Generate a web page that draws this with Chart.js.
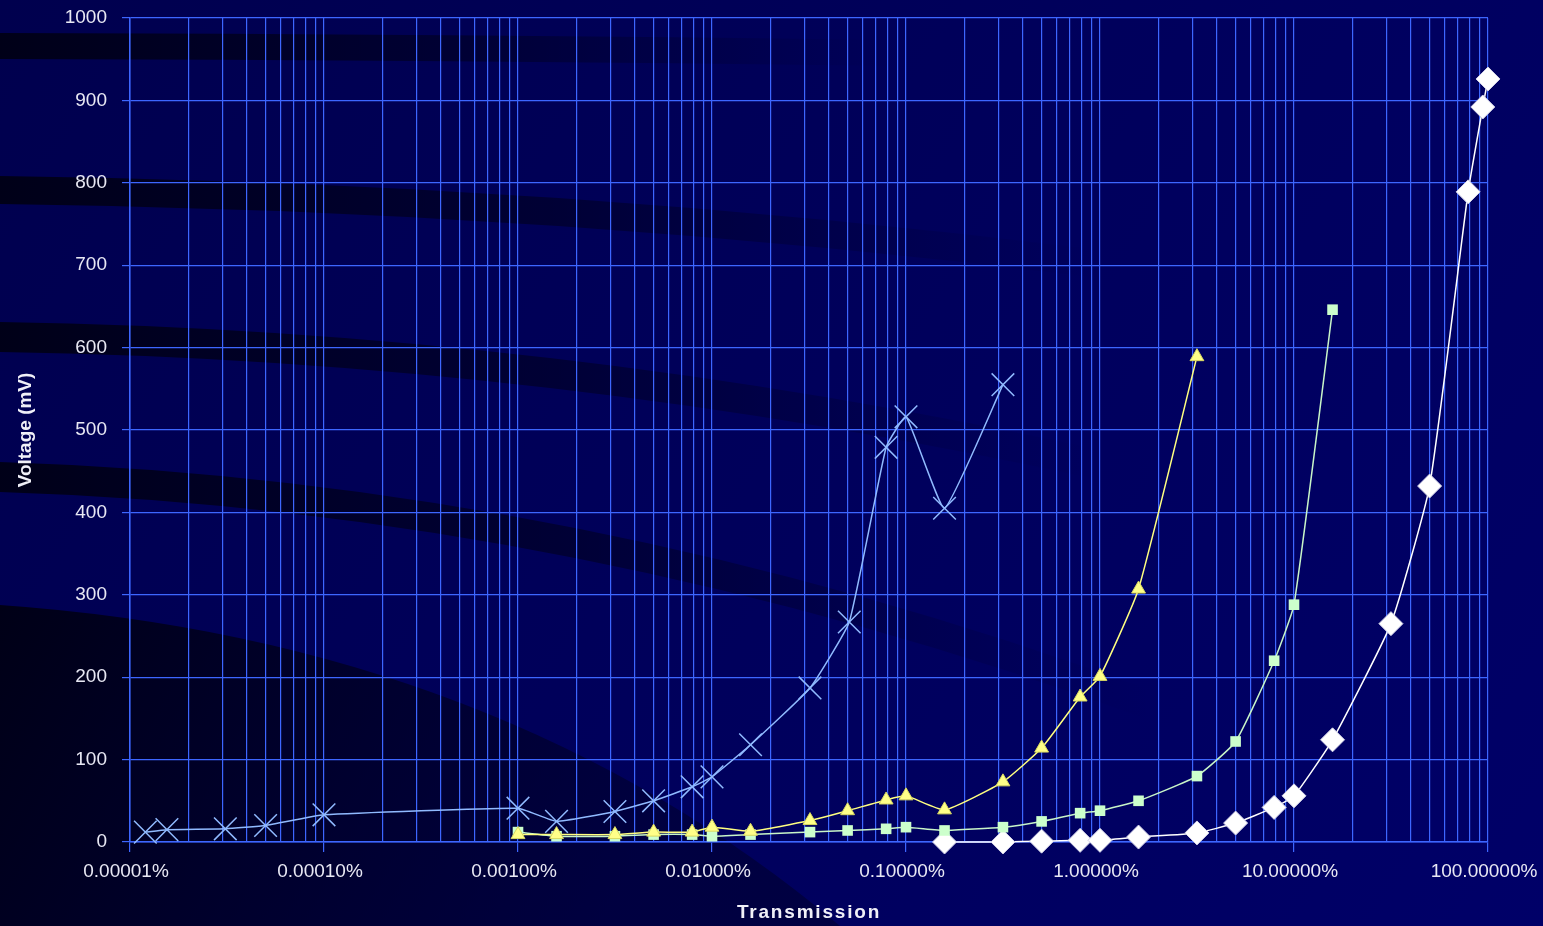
<!DOCTYPE html>
<html>
<head>
<meta charset="utf-8">
<script src="https://cdn.jsdelivr.net/npm/chart.js@4"></script>
<style>
  html, body { margin: 0; padding: 0; background: #00005e; }
  #wrap { width: 1543px; height: 926px; }
</style>
</head>
<body>
<div id="wrap"><canvas id="myChart" width="1543" height="926"></canvas></div>
<script>
// transmission values are fractions (1 = 100%), voltages in mV
var cross_x = [1.2e-7, 1.55e-7, 3.1e-7, 5e-7, 1e-6, 1e-5, 1.58e-5, 3.16e-5, 5e-5, 7.9e-5, 1e-4, 1.58e-4, 3.2e-4, 5.1e-4, 7.9e-4, 1e-3, 1.58e-3, 3.16e-3];
var cross_y = [12, 15, 16, 20, 33, 41, 25, 37, 50, 67, 79, 118, 187, 267, 479, 516, 405, 555];

var tri_x = [1e-5, 1.58e-5, 3.16e-5, 5e-5, 7.9e-5, 1e-4, 1.58e-4, 3.2e-4, 5e-4, 7.9e-4, 1e-3, 1.58e-3, 3.16e-3, 5e-3, 7.9e-3, 1e-2, 1.58e-2, 3.16e-2];
var tri_y = [9, 9, 9, 12, 12, 18, 13, 26, 38, 51, 56, 39, 73, 114, 176, 201, 307, 589];

var sq_x = [1e-5, 1.58e-5, 3.16e-5, 5e-5, 7.9e-5, 1e-4, 1.58e-4, 3.2e-4, 5e-4, 7.9e-4, 1e-3, 1.58e-3, 3.16e-3, 5e-3, 7.9e-3, 1e-2, 1.58e-2, 3.16e-2, 5e-2, 7.9e-2, 1e-1, 1.58e-1];
var sq_y = [12, 7, 7, 9, 9, 7, 9, 12, 14, 16, 18, 14, 18, 25, 35, 38, 50, 80, 122, 220, 288, 646];

var dia_x = [1.58e-3, 3.16e-3, 5e-3, 7.9e-3, 1e-2, 1.58e-2, 3.16e-2, 5e-2, 7.9e-2, 1e-1, 1.58e-1, 3.16e-1, 5e-1, 7.9e-1, 0.94, 1];
var dia_y = [0, 0, 1, 2, 2, 6, 11, 23, 42, 56, 124, 265, 432, 789, 892, 926];

var y_ticks = [0, 100, 200, 300, 400, 500, 600, 700, 800, 900, 1000];
var x_decades = [1e-7, 1e-6, 1e-5, 1e-4, 1e-3, 1e-2, 1e-1, 1];
var x_minor = [1, 2, 3, 4, 5, 6, 7, 8, 9];
var x_title = 'Transmission';

function pts(xs, ys) {
    let out = [];
    for (let i = 0; i < xs.length; i++) {
        out.push({ x: xs[i], y: ys[i] });
    }
    return out;
}

function is_decade(v) {
    let l = Math.log10(v);
    return Math.abs(l - Math.round(l)) < 1e-6;
}

// dark swooshes of the slide background
var backdrop = {
    id: 'backdrop',
    beforeDraw(chart) {
        let c = chart.ctx;
        let w = chart.width, h = chart.height;
        c.save();
        let bg = c.createLinearGradient(0, 0, w, h);
        bg.addColorStop(0, '#00004e');
        bg.addColorStop(1, '#000068');
        c.fillStyle = bg;
        c.fillRect(0, 0, w, h);

        function band(y0, y1, x2, y2, thick, reach) {
            let g = c.createLinearGradient(0, 0, reach, 0);
            g.addColorStop(0, 'rgba(0,0,18,0.9)');
            g.addColorStop(0.5, 'rgba(0,0,25,0.55)');
            g.addColorStop(1, 'rgba(0,0,40,0)');
            c.fillStyle = g;
            c.beginPath();
            c.moveTo(0, y0);
            c.quadraticCurveTo(x2 * 0.5, y1, x2, y2);
            c.lineTo(x2, y2 + thick);
            c.quadraticCurveTo(x2 * 0.5, y1 + thick, 0, y0 + thick);
            c.closePath();
            c.fill();
        }
        band(33, 34, 900, 40, 26, 900);
        band(176, 182, 1100, 250, 28, 1100);
        band(322, 330, 1100, 450, 30, 1100);
        band(462, 480, 1150, 690, 30, 1150);

        let g2 = c.createLinearGradient(0, 600, 600, 926);
        g2.addColorStop(0, 'rgba(0,0,12,0.85)');
        g2.addColorStop(1, 'rgba(0,0,30,0.45)');
        c.fillStyle = g2;
        c.beginPath();
        c.moveTo(0, 605);
        c.quadraticCurveTo(500, 640, 840, 926);
        c.lineTo(0, 926);
        c.closePath();
        c.fill();
        c.restore();
    }
};

// spaced-out bold x axis title, like the original slide
var xTitle = {
    id: 'xTitle',
    afterDraw(chart) {
        let c = chart.ctx;
        let a = chart.chartArea;
        c.save();
        c.font = 'bold 19px "Liberation Sans", Arial, sans-serif';
        c.fillStyle = '#f0f0f8';
        c.letterSpacing = '1.8px';
        c.textAlign = 'center';
        c.textBaseline = 'middle';
        c.fillText(x_title, (a.left + a.right) / 2, 913);
        c.restore();
    }
};

var ctx = document.getElementById('myChart');
var gridBlue = '#3d66ff';
var tickFont = { family: 'Liberation Sans, Arial, sans-serif', size: 19 };
var titleFont = { family: 'Liberation Sans, Arial, sans-serif', size: 19, weight: 'bold' };

var chart = new Chart(ctx, {
    type: 'scatter',
    data: {
        datasets: [
            {
                label: 'cross',
                data: pts(cross_x, cross_y),
                showLine: true,
                borderColor: '#90baff',
                backgroundColor: '#90baff',
                borderWidth: 1.5,
                pointStyle: 'crossRot',
                pointRadius: 16,
                pointBorderWidth: 1.5,
                tension: 0.12,
                clip: false
            },
            {
                label: 'triangle',
                data: pts(tri_x, tri_y),
                showLine: true,
                borderColor: '#ffff80',
                backgroundColor: '#ffff88',
                borderWidth: 1.5,
                pointStyle: 'triangle',
                pointRadius: 8,
                pointBorderWidth: 1,
                pointBorderColor: '#d8d860',
                tension: 0.15,
                clip: false
            },
            {
                label: 'square',
                data: pts(sq_x, sq_y),
                showLine: true,
                borderColor: '#c8f5c8',
                backgroundColor: '#ccffcc',
                borderWidth: 1.5,
                pointStyle: 'rect',
                pointRadius: 7.5,
                pointBorderWidth: 0,
                tension: 0.15,
                clip: false
            },
            {
                label: 'diamond',
                data: pts(dia_x, dia_y),
                showLine: true,
                borderColor: '#ffffff',
                backgroundColor: '#ffffff',
                borderWidth: 1.5,
                pointStyle: 'rectRot',
                pointRadius: 12,
                pointBorderWidth: 1,
                pointBorderColor: '#d0d0e8',
                tension: 0.15,
                clip: false
            }
        ]
    },
    plugins: [backdrop, xTitle],
    options: {
        responsive: false,
        animation: false,
        layout: { padding: { top: 18, right: 55, left: 0, bottom: 0 } },
        plugins: {
            legend: { display: false },
            tooltip: { enabled: false }
        },
        scales: {
            x: {
                type: 'logarithmic',
                min: 1e-7,
                max: 1,
                afterFit: function (s) {
                    s.height = 84;
                    s.paddingLeft = 0;
                    s.paddingRight = 0;
                },
                afterBuildTicks: function (s) {
                    let t = [];
                    for (let d = 0; d < x_decades.length; d++) {
                        for (let m = 0; m < x_minor.length; m++) {
                            let v = x_decades[d] * x_minor[m];
                            if (v <= 1) t.push({ value: v, major: m == 0 });
                        }
                    }
                    s.ticks = t;
                },
                border: { color: gridBlue, width: 1.5 },
                grid: {
                    color: gridBlue,
                    lineWidth: 1.2,
                    tickLength: 10,
                    tickColor: function (c) { return (c.tick && is_decade(c.tick.value)) ? gridBlue : 'rgba(0,0,0,0)'; }
                },
                ticks: {
                    autoSkip: false,
                    maxRotation: 0,
                    color: '#e8e8f4',
                    font: tickFont,
                    padding: 8,
                    labelOffset: -4,
                    callback: function (v) {
                        if (!is_decade(v)) return '';
                        return (v * 100).toFixed(5) + '%';
                    }
                },
                title: { display: false }
            },
            y: {
                min: 0,
                max: 1000,
                afterFit: function (s) {
                    s.width = 130;
                    s.paddingTop = 0;
                    s.paddingBottom = 0;
                },
                afterBuildTicks: function (s) { s.ticks = y_ticks.map(v => ({ value: v })); },
                border: { color: gridBlue, width: 1.5 },
                grid: { color: gridBlue, lineWidth: 1.2, tickLength: 8 },
                ticks: {
                    color: '#e8e8f4',
                    font: tickFont,
                    padding: 15,
                    callback: function (v) { return String(v); }
                },
                title: {
                    display: true,
                    text: 'Voltage (mV)',
                    color: '#f0f0f8',
                    font: titleFont,
                    padding: { top: 14, bottom: 0 }
                }
            }
        }
    }
});
</script>
</body>
</html>
